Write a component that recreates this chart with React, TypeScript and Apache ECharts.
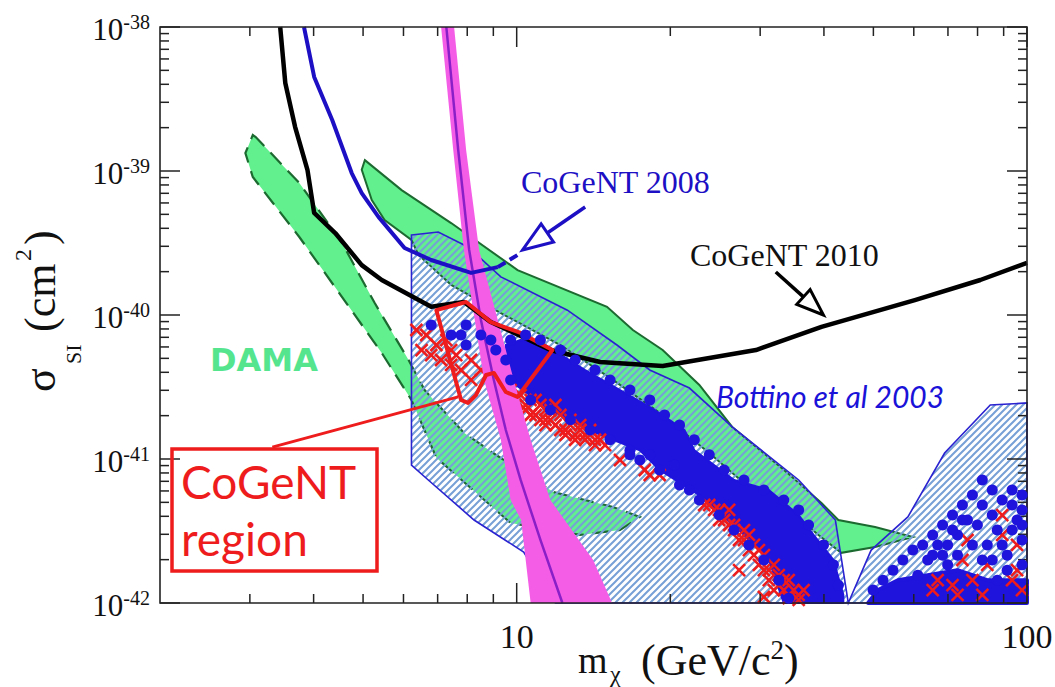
import React, { useEffect, useRef } from "react";
import * as echarts from "echarts";

// ---- axis ranges and ticks ----
const massMin = 2;
const massMax = 100;
const sigmaMin = 1e-42;
const sigmaMax = 1e-38;

const xMajorTicks = [10, 100];
const xMinorTicks = [3, 4, 5, 6, 7, 8, 9, 20, 30, 40, 50, 60, 70, 80, 90];
const yMajorTicks = [1e-42, 1e-41, 1e-40, 1e-39, 1e-38];
const yMinorTicks = [
  2e-42, 3e-42, 4e-42, 5e-42, 6e-42, 7e-42, 8e-42, 9e-42,
  2e-41, 3e-41, 4e-41, 5e-41, 6e-41, 7e-41, 8e-41, 9e-41,
  2e-40, 3e-40, 4e-40, 5e-40, 6e-40, 7e-40, 8e-40, 9e-40,
  2e-39, 3e-39, 4e-39, 5e-39, 6e-39, 7e-39, 8e-39, 9e-39,
];
const xTickLabels = ["10", "100"];
const yTickExponents = ["-42", "-41", "-40", "-39", "-38"];

// ---- curves: [mass GeV, sigma cm^2] ----
const cogent2010Limit: number[][] = [
  [3.44, 1.0e-38], [3.52, 4.08e-39], [3.68, 2.02e-39], [3.89, 1.02e-39], [4.01, 5.11e-40],
  [4.41, 3.71e-40], [4.97, 2.22e-40], [5.44, 1.75e-40], [6.8, 1.14e-40], [7.88, 1.23e-40],
  [8.9, 8.93e-41], [11.64, 5.71e-41], [14.57, 4.72e-41], [19.32, 4.43e-41], [29.44, 5.71e-41],
  [39.56, 8.26e-41], [60.29, 1.27e-40], [81.0, 1.75e-40], [100, 2.3e-40],
];
const cogent2008Limit: number[][] = [
  [3.83, 1.0e-38], [4.01, 4.5e-39], [4.35, 2.26e-39], [4.75, 9.68e-40], [4.97, 7.03e-40],
  [5.36, 4.8e-40], [6.03, 2.92e-40], [6.8, 2.41e-40], [8.14, 1.96e-40], [9.18, 2.15e-40],
];
const cogent2008Dashed: number[][] = [[9.18, 2.15e-40], [10.04, 2.61e-40]];

const damaLowBand: number[][] = [
  [3.04, 1.78e-39], [3.08, 1.72e-39], [3.75, 8.25e-40], [4.55, 3.16e-40], [5.27, 1.21e-40],
  [6.14, 4.87e-41], [6.6, 3.01e-41], [7.88, 1.52e-41], [9.1, 1.07e-41], [11.8, 5.9e-42],
  [15.44, 4.64e-42], [17.43, 3.96e-42], [15.94, 3.21e-42], [13.32, 2.97e-42], [9.73, 3.59e-42],
  [8.51, 5.45e-42], [6.96, 1.02e-41], [6.22, 2.57e-41], [5.44, 5.45e-41], [4.49, 1.42e-40],
  [3.75, 3.48e-40], [3.04, 9.08e-40], [2.94, 1.33e-39],
];
const damaHighBand: number[][] = [
  [5.04, 1.19e-39], [5.95, 7.37e-40], [7.44, 4.35e-40], [10.04, 2.05e-40], [15.03, 1.14e-40],
  [16.89, 7.87e-41], [19.32, 5.71e-41], [22.8, 3.27e-41], [26.44, 1.67e-41], [34.12, 7.87e-42],
  [39.56, 4.95e-42], [42.69, 3.77e-42], [50.39, 3.37e-42], [59.76, 2.87e-42], [50.39, 2.45e-42],
  [43.27, 2.23e-42], [39.03, 2.97e-42], [34.58, 4.28e-42], [28.92, 6.1e-42], [23.84, 1.1e-41],
  [19.06, 2.09e-41], [15.44, 3.54e-41], [12.18, 6.19e-41], [9.31, 1.03e-40], [7.44, 1.62e-40],
  [6.42, 2.61e-40], [6.22, 3.32e-40], [5.51, 4.57e-40], [5.2, 6.29e-40], [4.97, 1.02e-39],
];
const bottinoRegion: number[][] = [
  [6.22, 3.59e-40], [7.02, 3.77e-40], [8.03, 2.97e-40], [9.31, 1.84e-40], [12.57, 1.08e-40],
  [15.72, 6.19e-41], [18.23, 4.15e-41], [21.8, 3.11e-41], [26.44, 1.67e-41], [35.69, 7.15e-42],
  [42.12, 3.77e-42], [44.65, 1.0e-42], [49.5, 2.33e-42], [58.42, 3.96e-42], [68.95, 1.1e-41],
  [84.73, 2.37e-41], [100, 2.45e-41], [100, 1.0e-42], [11.91, 1.0e-42], [10.32, 2.26e-42],
  [8.25, 3.77e-42], [6.71, 7.15e-42], [6.22, 9.08e-42],
];
const magentaBand: number[][] = [
  [7.11, 1.0e-38], [7.51, 1.4e-39], [7.88, 2.83e-40], [8.63, 3.54e-41], [9.31, 1.36e-41],
  [9.73, 5.19e-42], [10.2, 3.77e-42], [10.65, 1.0e-42], [15.38, 1.0e-42], [14.12, 1.99e-42],
  [11.64, 5.19e-42], [10.65, 1.36e-41], [9.87, 3.54e-41], [8.44, 2.83e-40], [7.96, 1.4e-39],
  [7.54, 1.0e-38],
];
const magentaCentral: number[][] = [
  [7.28, 1.0e-38], [7.68, 1.4e-39], [8.07, 2.83e-40], [8.51, 9.23e-41], [9.02, 3.54e-41],
  [9.52, 1.59e-41], [10.18, 7.15e-42], [11.13, 2.74e-42], [12.29, 1.0e-42],
];
const cogentRegion: number[][] = [
  [6.96, 1.08e-40], [7.96, 1.23e-40], [8.9, 8.93e-41], [10.18, 7.5e-41], [11.75, 5.71e-41],
  [10.04, 2.7e-41], [9.52, 2.92e-41], [9.02, 3.96e-41], [8.71, 3.83e-41], [8.32, 2.78e-41],
  [8.03, 2.45e-41], [7.78, 2.57e-41],
];
const cogentCallout: number[][] = [[3.32, 1.21e-41], [7.68, 2.7e-41]];
const arrow2008: number[][] = [[13.62, 5.62e-40], [10.27, 2.83e-40]];
const arrow2010: number[][] = [[32.19, 1.99e-40], [39.92, 1.0e-40]];

// ---- model points ----
const blueDenseBand: number[][] = [
  [9.52, 6.19e-41], [10.18, 6.7e-41], [11.39, 6.19e-41], [13.62, 4.15e-41], [15.94, 3.01e-41],
  [18.64, 2.19e-41], [21.32, 1.59e-41], [22.29, 1.15e-41], [26.67, 7.15e-42], [31.2, 6.1e-42],
  [35.69, 4.08e-42], [38.17, 2.97e-42], [41.75, 1.99e-42], [43.66, 1.14e-42], [43.66, 1.0e-42],
  [33.37, 1.0e-42], [31.2, 1.99e-42], [27.28, 3.21e-42], [22.8, 5.62e-42], [19.06, 8.39e-42],
  [17.43, 1.15e-41], [14.57, 1.47e-41], [11.64, 2.19e-41], [9.96, 3.27e-41], [9.52, 4.5e-41],
];
const blueDenseRight: number[][] = [
  [48.84, 1.0e-42], [51.07, 1.23e-42], [55.86, 1.44e-42], [63.9, 1.56e-42], [73.09, 1.69e-42],
  [83.6, 1.44e-42], [100, 1.44e-42], [100, 1.0e-42],
];
const blueModels: number[][] = [
  [6.8, 8.53e-41], [7.44, 7.26e-41], [7.78, 7.26e-41], [7.96, 8.53e-41], [7.96, 6.19e-41],
  [8.51, 7.26e-41], [8.9, 6.7e-41], [9.1, 5.71e-41],
  [9.73, 6.7e-41], [10.41, 7.26e-41], [11.13, 6.7e-41], [12.18, 5.71e-41], [13.02, 4.87e-41],
  [14.24, 4.15e-41], [15.24, 3.54e-41], [16.67, 3.01e-41], [18.23, 2.57e-41], [19.49, 2.02e-41],
  [20.85, 1.72e-41], [22.29, 1.36e-41], [23.84, 1.07e-41], [25.5, 8.39e-42], [27.89, 7.15e-42],
  [30.51, 6.1e-42], [33.37, 5.19e-42], [35.69, 4.43e-42], [37.32, 3.48e-42], [39.92, 2.53e-42],
  [41.75, 1.84e-42], [42.69, 1.33e-42],
  [34.12, 1.08e-42], [32.63, 1.44e-42], [30.51, 1.99e-42], [28.52, 2.53e-42], [26.67, 3.21e-42],
  [24.94, 4.08e-42], [22.8, 5.19e-42], [20.85, 6.6e-42], [19.06, 8.39e-42], [18.23, 1.07e-41],
  [16.67, 1.15e-41], [15.24, 1.36e-41], [13.93, 1.59e-41], [12.74, 1.87e-41], [11.64, 2.19e-41],
  [10.65, 2.57e-41], [9.73, 3.54e-41], [9.52, 4.87e-41],
  [16.67, 1.07e-41], [17.43, 9.84e-42], [20.38, 9.08e-42], [21.8, 6.1e-42],
  [49.93, 1.23e-42], [52.22, 1.44e-42], [54.62, 1.69e-42], [57.11, 1.99e-42], [59.74, 2.33e-42],
  [62.46, 2.53e-42], [65.34, 2.97e-42], [68.33, 3.48e-42], [71.46, 4.08e-42], [74.72, 4.79e-42],
  [78.17, 5.62e-42], [81.75, 7.15e-42], [85.49, 6.1e-42], [89.42, 5.19e-42], [93.5, 6.1e-42],
  [97.79, 5.62e-42], [95.62, 3.77e-42], [97.79, 2.74e-42], [91.44, 2.15e-42], [83.6, 2.53e-42],
  [79.94, 3.48e-42], [73.09, 2.97e-42], [68.33, 2.15e-42], [63.9, 1.99e-42], [61.1, 1.56e-42],
  [87.44, 1.44e-42], [97.79, 1.84e-42], [97.79, 4.43e-42], [76.44, 3.77e-42], [87.44, 3.21e-42],
  [69.9, 2.53e-42], [91.44, 1.69e-42], [73.09, 2.15e-42], [81.75, 1.99e-42],
  [93.5, 3.21e-42], [89.42, 2.53e-42], [85.49, 1.99e-42], [78.17, 2.53e-42], [71.46, 3.21e-42],
  [74.72, 3.77e-42], [81.75, 4.79e-42], [85.49, 4.08e-42], [93.5, 4.79e-42], [97.79, 3.48e-42],
  [66.83, 2.53e-42], [69.9, 1.84e-42], [65.34, 2.15e-42],
];
const redModels: number[][] = [
  [6.36, 7.87e-41], [6.65, 7.26e-41], [6.51, 5.71e-41], [6.96, 6.19e-41], [7.11, 4.87e-41],
  [7.44, 5.71e-41], [7.44, 4.5e-41], [7.78, 4.15e-41], [8.14, 3.54e-41], [8.14, 4.87e-41],
  [8.51, 4.15e-41], [7.61, 5.27e-41], [7.28, 6.7e-41], [6.8, 5.27e-41],
  [9.96, 2.57e-41], [10.41, 2.37e-41], [10.89, 2.57e-41], [11.39, 2.19e-41], [11.91, 2.37e-41],
  [10.65, 2.02e-41], [11.13, 1.87e-41], [11.64, 1.87e-41], [12.18, 2.02e-41], [12.74, 1.72e-41],
  [13.32, 1.59e-41], [12.46, 1.47e-41], [13.62, 1.47e-41], [13.93, 1.59e-41], [14.57, 1.36e-41],
  [13.02, 1.36e-41], [10.18, 2.78e-41], [9.73, 2.57e-41], [12.18, 1.59e-41], [14.24, 1.25e-41],
  [11.39, 1.72e-41],
  [9.73, 3.01e-41], [10.65, 2.57e-41], [11.13, 2.37e-41], [11.64, 2.19e-41], [12.74, 1.87e-41],
  [13.32, 1.72e-41], [9.96, 2.37e-41], [10.41, 2.19e-41], [10.89, 2.02e-41], [11.39, 1.87e-41],
  [11.91, 1.72e-41], [12.46, 1.59e-41], [13.02, 1.47e-41], [13.62, 1.36e-41], [14.24, 1.36e-41],
  [14.9, 1.25e-41],
  [15.94, 9.84e-42], [17.82, 8.39e-42], [18.23, 7.74e-42], [19.06, 7.74e-42],
  [23.31, 4.79e-42], [24.38, 4.43e-42], [24.94, 3.77e-42], [26.08, 3.48e-42], [26.67, 3.21e-42],
  [27.28, 2.74e-42], [28.52, 2.33e-42], [29.17, 2.15e-42], [29.83, 1.84e-42], [30.51, 1.69e-42],
  [31.2, 1.44e-42], [32.63, 1.33e-42], [33.37, 1.23e-42], [34.12, 1.08e-42], [26.08, 4.43e-42],
  [27.89, 3.21e-42], [29.83, 2.33e-42], [31.9, 1.84e-42], [34.12, 1.44e-42], [35.69, 1.14e-42],
  [27.28, 1.69e-42], [30.51, 1.1e-42],
  [23.84, 4.79e-42], [24.94, 4.43e-42], [25.5, 3.77e-42], [26.67, 3.48e-42], [27.89, 2.74e-42],
  [28.52, 2.97e-42], [29.17, 2.53e-42], [30.51, 2.15e-42], [31.2, 1.69e-42], [32.63, 1.56e-42],
  [33.37, 1.44e-42], [34.89, 1.23e-42], [31.9, 1.23e-42], [35.69, 1.05e-42], [36.49, 1.23e-42],
  [89.42, 4.08e-42], [89.42, 2.97e-42], [76.44, 2.74e-42], [95.62, 2.53e-42], [74.72, 1.99e-42],
  [83.6, 1.84e-42], [95.62, 1.69e-42], [66.83, 1.44e-42], [71.46, 1.33e-42], [78.17, 1.44e-42],
  [65.34, 1.23e-42], [73.09, 1.14e-42], [81.75, 1.14e-42], [93.5, 1.44e-42], [97.79, 1.23e-42],
];

// ---- colours ----
const GREEN = "#62ef8e";
const DARK_GREEN = "#1d6a30";
const BLUE = "#1e14dc";
const RED = "#ee1c1c";
const MAGENTA = "#f45ee6";
const PURPLE = "#8a1fc8";
const SERIF = '"Liberation Serif", "Times New Roman", serif';

function makeHatch(): HTMLCanvasElement {
  const c = document.createElement("canvas");
  c.width = 7;
  c.height = 7;
  const ctx = c.getContext("2d")!;
  ctx.strokeStyle = "#76a0d6";
  ctx.lineWidth = 2;
  ctx.beginPath();
  ctx.moveTo(-1, 8); ctx.lineTo(8, -1);
  ctx.moveTo(-2, 2); ctx.lineTo(2, -2);
  ctx.moveTo(5, 9); ctx.lineTo(9, 5);
  ctx.stroke();
  return c;
}

function polygonSeries(pts: number[][], style: any) {
  return {
    type: "custom", silent: true, data: pts,
    renderItem: (params: any, api: any) => {
      if (params.dataIndex !== 0) return null;
      return { type: "polygon", shape: { points: pts.map((p) => api.coord(p)) }, style };
    },
  };
}
function polylineSeries(pts: number[][], style: any) {
  return {
    type: "custom", silent: true, data: pts,
    renderItem: (params: any, api: any) => {
      if (params.dataIndex !== 0) return null;
      return { type: "polyline", shape: { points: pts.map((p) => api.coord(p)) }, style: { fill: null, ...style } };
    },
  };
}
function arrowSeries(pts: number[][], color: string, headLen: number, headHalf: number) {
  return {
    type: "custom", silent: true, data: pts,
    renderItem: (params: any, api: any) => {
      if (params.dataIndex !== 0) return null;
      const t = api.coord(pts[0]);
      const h = api.coord(pts[1]);
      const dx = h[0] - t[0], dy = h[1] - t[1];
      const L = Math.hypot(dx, dy);
      const ux = dx / L, uy = dy / L;
      const bx = h[0] - ux * headLen, by = h[1] - uy * headLen;
      const nx = -uy, ny = ux;
      return {
        type: "group",
        children: [
          { type: "line", shape: { x1: t[0], y1: t[1], x2: bx, y2: by }, style: { stroke: color, lineWidth: 3.5 } },
          {
            type: "polygon",
            shape: { points: [[h[0], h[1]], [bx + nx * headHalf, by + ny * headHalf], [bx - nx * headHalf, by - ny * headHalf]] },
            style: { fill: "#ffffff", stroke: color, lineWidth: 3 },
          },
        ],
      };
    },
  };
}
function crossSeries(pts: number[][], color: string) {
  return {
    type: "custom", silent: true, data: pts,
    renderItem: (params: any, api: any) => {
      const c = api.coord([api.value(0), api.value(1)]);
      const s = 6;
      return {
        type: "group",
        children: [
          { type: "line", shape: { x1: c[0] - s, y1: c[1] - s, x2: c[0] + s, y2: c[1] + s }, style: { stroke: color, lineWidth: 2.6 } },
          { type: "line", shape: { x1: c[0] - s, y1: c[1] + s, x2: c[0] + s, y2: c[1] - s }, style: { stroke: color, lineWidth: 2.6 } },
        ],
      };
    },
  };
}
function xTickSeries(values: number[], len: number) {
  return {
    type: "custom", silent: true, data: values.map((v) => [v, sigmaMin]),
    renderItem: (params: any, api: any) => {
      const v = api.value(0);
      const b = api.coord([v, sigmaMin]);
      const t = api.coord([v, sigmaMax]);
      return {
        type: "group",
        children: [
          { type: "line", shape: { x1: b[0], y1: b[1], x2: b[0], y2: b[1] - len }, style: { stroke: "#222", lineWidth: 1.5 } },
          { type: "line", shape: { x1: t[0], y1: t[1], x2: t[0], y2: t[1] + len }, style: { stroke: "#222", lineWidth: 1.5 } },
        ],
      };
    },
  };
}
function yTickSeries(values: number[], len: number) {
  return {
    type: "custom", silent: true, data: values.map((v) => [massMin, v]),
    renderItem: (params: any, api: any) => {
      const v = api.value(1);
      const l = api.coord([massMin, v]);
      const r = api.coord([massMax, v]);
      return {
        type: "group",
        children: [
          { type: "line", shape: { x1: l[0], y1: l[1], x2: l[0] + len, y2: l[1] }, style: { stroke: "#222", lineWidth: 1.5 } },
          { type: "line", shape: { x1: r[0], y1: r[1], x2: r[0] - len, y2: r[1] }, style: { stroke: "#222", lineWidth: 1.5 } },
        ],
      };
    },
  };
}

function txt(x: number, y: number, text: string, font: string, fill: string, align = "left", extra: any = {}) {
  return {
    type: "text", x, y, z: 100, silent: true,
    style: { text, font, fill, align, textAlign: align, verticalAlign: "middle", textVerticalAlign: "middle", ...extra },
  };
}

export default function App() {
  const ref = useRef<HTMLDivElement>(null);
  useEffect(() => {
    if (!ref.current) return;
    const chart = echarts.init(ref.current, null, { renderer: "svg" });
    const hatch = makeHatch();

    const option: any = {
      animation: false,
      backgroundColor: "#ffffff",
      grid: { left: 160, right: 28, top: 27, bottom: 84, show: false },
      xAxis: {
        type: "log", logBase: 10, min: massMin, max: massMax,
        axisLine: { show: false }, axisTick: { show: false }, axisLabel: { show: false }, splitLine: { show: false },
      },
      yAxis: {
        type: "log", logBase: 10, min: sigmaMin, max: sigmaMax,
        axisLine: { show: false }, axisTick: { show: false }, axisLabel: { show: false }, splitLine: { show: false },
      },
      series: [
        polygonSeries(damaLowBand, { fill: GREEN, stroke: DARK_GREEN, lineWidth: 2.2, lineDash: [16, 9] }),
        polygonSeries(damaHighBand, { fill: GREEN, stroke: DARK_GREEN, lineWidth: 2 }),
        polygonSeries(bottinoRegion, { fill: { image: hatch, repeat: "repeat" }, stroke: "#2a22d0", lineWidth: 1.6 }),
        polygonSeries(blueDenseBand, { fill: BLUE, stroke: BLUE, lineWidth: 2, lineJoin: "round" }),
        polygonSeries(blueDenseRight, { fill: BLUE, stroke: BLUE, lineWidth: 4, lineJoin: "round" }),
        {
          type: "scatter", silent: true, data: blueModels, symbol: "circle", symbolSize: 11,
          itemStyle: { color: BLUE, opacity: 1 }, clip: true,
        },
        crossSeries(redModels, RED),
        polygonSeries(magentaBand, { fill: MAGENTA, stroke: null }),
        polylineSeries(magentaCentral, { stroke: PURPLE, lineWidth: 2.5 }),
        polylineSeries(cogent2010Limit, { stroke: "#000000", lineWidth: 4.5, lineJoin: "round" }),
        polylineSeries(cogent2008Limit, { stroke: "#1d10c4", lineWidth: 4, lineJoin: "round" }),
        polylineSeries(cogent2008Dashed, { stroke: "#1d10c4", lineWidth: 4, lineDash: [9, 5] }),
        polygonSeries(cogentRegion, { fill: null, stroke: RED, lineWidth: 4, lineJoin: "round" }),
        polylineSeries(cogentCallout, { stroke: RED, lineWidth: 3 }),
        arrowSeries(arrow2008, "#1d10c4", 30, 11),
        arrowSeries(arrow2010, "#000000", 27, 10),
        {
          type: "custom", silent: true, data: [[massMin, sigmaMin]],
          renderItem: (params: any) => {
            const cs = params.coordSys;
            return {
              type: "rect", shape: { x: cs.x, y: cs.y, width: cs.width, height: cs.height },
              style: { fill: null, stroke: "#222", lineWidth: 1.6 },
            };
          },
        },
        xTickSeries(xMajorTicks, 20),
        xTickSeries(xMinorTicks, 9),
        yTickSeries(yMajorTicks, 20),
        yTickSeries(yMinorTicks, 9),
        {
          type: "custom", silent: true, data: xMajorTicks.map((v) => [v, sigmaMin]),
          renderItem: (params: any, api: any) => {
            const p = api.coord([api.value(0), sigmaMin]);
            return {
              type: "text", x: p[0], y: p[1] + 33,
              style: {
                text: xTickLabels[params.dataIndex], font: `34px ${SERIF}`, fill: "#111",
                align: "center", textAlign: "center", verticalAlign: "middle", textVerticalAlign: "middle",
              },
            };
          },
        },
        {
          type: "custom", silent: true, data: yMajorTicks.map((v) => [massMin, v]),
          renderItem: (params: any, api: any) => {
            const p = api.coord([massMin, api.value(1)]);
            return {
              type: "text", x: p[0] - 10, y: p[1] + 2,
              style: {
                text: `{b|10}{e|${yTickExponents[params.dataIndex]}}`, fill: "#111",
                align: "right", textAlign: "right", verticalAlign: "middle", textVerticalAlign: "middle",
                rich: {
                  b: { fontSize: 31, fontFamily: SERIF, lineHeight: 34, fill: "#111", color: "#111" },
                  e: { fontSize: 20, fontFamily: SERIF, lineHeight: 10, verticalAlign: "top", fill: "#111", color: "#111" },
                },
              },
            };
          },
        },
      ],
      graphic: {
        elements: [
          txt(521, 182, "CoGeNT 2008", `32px ${SERIF}`, "#1d10c4"),
          txt(690, 255, "CoGeNT 2010", `32px ${SERIF}`, "#111111"),
          txt(716, 396, "Bottino et al 2003", "italic 30px Lato", "#1a12d8"),
          txt(210, 360, "DAMA", 'bold 32px "DejaVu Sans"', "#55e58f"),
          {
            type: "rect", z: 100, silent: true,
            shape: { x: 172, y: 449, width: 205, height: 122 },
            style: { fill: null, stroke: RED, lineWidth: 3.5 },
          },
          txt(181, 481, "CoGeNT", "46px Lato", RED),
          txt(181, 538, "region", "46px Lato", RED),
          txt(578, 660, "m", `38px ${SERIF}`, "#111"),
          txt(610, 674, "χ", `24px ${SERIF}`, "#111"),
          {
            type: "text", x: 641, y: 660, z: 100, silent: true,
            style: {
              text: "{b|(GeV/c}{s|2}{b|)}", fill: "#111",
              align: "left", textAlign: "left", verticalAlign: "middle", textVerticalAlign: "middle",
              rich: {
                b: { fontSize: 44, fontFamily: SERIF, lineHeight: 48, fill: "#111", color: "#111" },
                s: { fontSize: 27, fontFamily: SERIF, lineHeight: 16, verticalAlign: "top", fill: "#111", color: "#111" },
              },
            },
          },
          {
            type: "group", x: 53, y: 392, rotation: Math.PI / 2, z: 100, silent: true,
            children: [
              txt(0, -13, "σ", `44px ${SERIF}`, "#111"),
              txt(28, 20, "SI", `22px ${SERIF}`, "#111"),
              txt(60, -13, "(cm", `44px ${SERIF}`, "#111"),
              txt(131, -30, "2", `24px ${SERIF}`, "#111"),
              txt(147, -13, ")", `44px ${SERIF}`, "#111"),
            ],
          },
        ],
      },
    };
    chart.setOption(option);
    return () => chart.dispose();
  }, []);
  return (
    <div
      ref={ref}
      style={{ position: "absolute", left: 0, top: 0, width: 1055, height: 687, background: "#fff" }}
    />
  );
}
